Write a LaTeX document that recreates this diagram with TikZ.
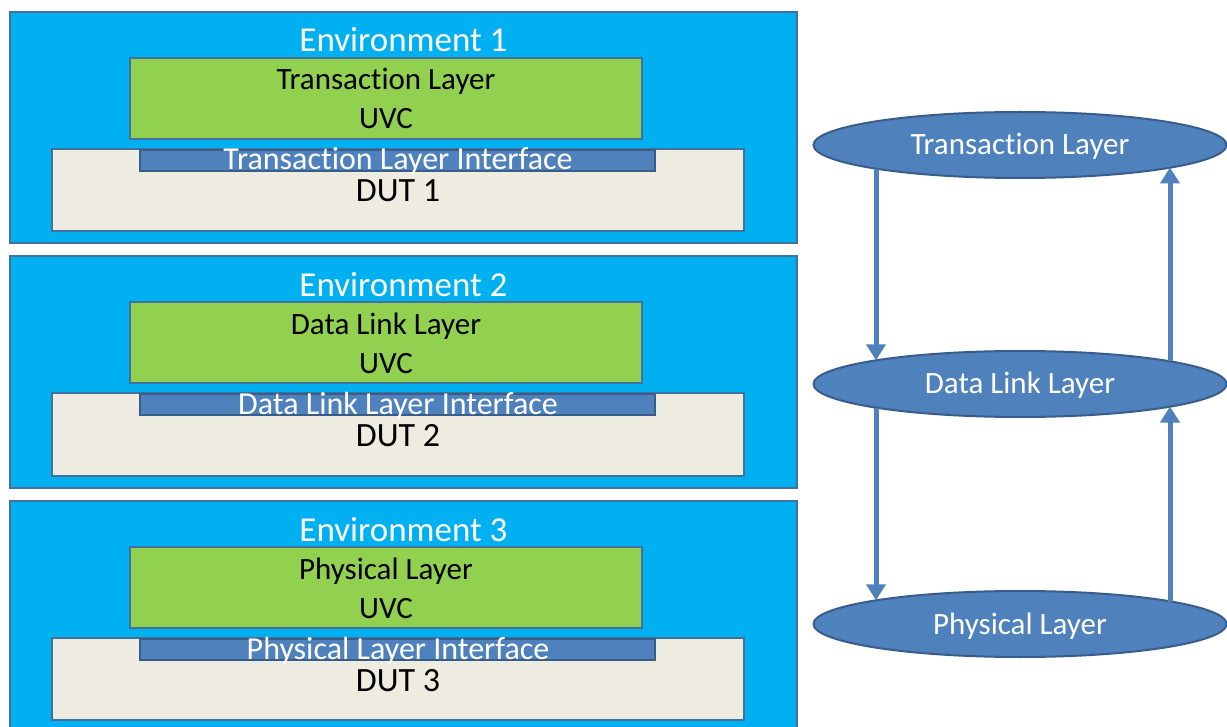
\documentclass[tikz,border=0pt]{standalone}
\usepackage{fontspec}
\setmainfont{Carlito}[Ligatures=NoCommon]
\usetikzlibrary{shapes.geometric,arrows.meta,calc}

\definecolor{envfill}{HTML}{00B0F0}
\definecolor{envline}{HTML}{41719C}
\definecolor{uvcfill}{HTML}{92D050}
\definecolor{dutfill}{HTML}{EEECE1}
\definecolor{layerblue}{HTML}{4F81BD}
\definecolor{layerline}{HTML}{385D8A}

\tikzset{
  boxbase/.style={draw=envline, line width=2pt, inner sep=0pt, outer sep=0pt, anchor=north west},
  envbox/.style={boxbase, fill=envfill, minimum width=787pt, minimum height=231pt},
  uvcbox/.style={boxbase, fill=uvcfill, minimum width=512pt, minimum height=81pt},
  dutbox/.style={boxbase, fill=dutfill, minimum width=692pt, minimum height=82pt},
  ifacebar/.style={boxbase, draw=layerline, fill=layerblue, minimum width=515pt, minimum height=21pt},
  envtitle/.style={anchor=base, inner sep=0pt, text=white, font=\fontsize{35}{42}\selectfont},
  blacklabel/.style={anchor=base, inner sep=0pt, text=black, font=\fontsize{31}{37}\selectfont},
  dutlabel/.style={anchor=base, inner sep=0pt, text=black, font=\fontsize{34}{40}\selectfont},
  whitelabel/.style={anchor=base, inner sep=0pt, text=white, font=\fontsize{32}{38}\selectfont},
  layer/.style={ellipse, draw=layerline, line width=2pt, fill=layerblue, text=white,
    inner sep=0pt, minimum width=413pt, minimum height=66pt,
    text height=22pt, text depth=2pt, font=\fontsize{31}{37}\selectfont},
  flow/.style={draw=layerblue, line width=5pt, -{Triangle[width=19pt,length=16pt]}}
}

\begin{document}
\begin{tikzpicture}[x=1pt, y=-1pt]
  \useasboundingbox[fill=white] (0,0) rectangle (1227,727);

  % Three verification environments, stacked
  \foreach \i/\lay/\iface in {1/Transaction Layer/Transaction Layer Interface,
                              2/Data Link Layer/Data Link Layer Interface,
                              3/Physical Layer/Physical Layer Interface} {
    \pgfmathsetmacro{\dy}{244.5*(\i-1)}
    \node[envbox]   (env\i)   at (10,  12+\dy) {};
    \node[uvcbox]   (uvc\i)   at (130, 58+\dy) {};
    \node[dutbox]   (dut\i)   at (52, 149+\dy) {};
    \node[ifacebar] (bar\i)   at (140,150+\dy) {};
    \node[envtitle] (title\i) at (403.5, 52+\dy) {Environment \i};
    \node[blacklabel] (lay\i) at (386, 90+\dy) {\lay};
    \node[blacklabel] (uvclbl\i) at (386, 129+\dy) {UVC};
    \node[whitelabel] (ifl\i) at (398, 170+\dy) {\iface};
    \node[dutlabel] (dutl\i) at (398, 202+\dy) {DUT \i};
  }

  % Protocol layer stack
  \node[layer] (tl) at (1020,145) {Transaction Layer};
  \node[layer] (dl) at (1020,384) {Data Link Layer};
  \node[layer] (pl) at (1020,624) {Physical Layer};

  % Downward path on the left, upward path on the right
  \draw[flow] ($(tl.center)+(-144,23.7)$) -- ($(dl.center)+(-144,-23.7)$);
  \draw[flow] ($(dl.center)+(-144,23.7)$) -- ($(pl.center)+(-144,-23.7)$);
  \draw[flow] ($(dl.center)+(150,-22.5)$) -- ($(tl.center)+(150,22.5)$);
  \draw[flow] ($(pl.center)+(150,-22.5)$) -- ($(dl.center)+(150,22.5)$);
\end{tikzpicture}
\end{document}
